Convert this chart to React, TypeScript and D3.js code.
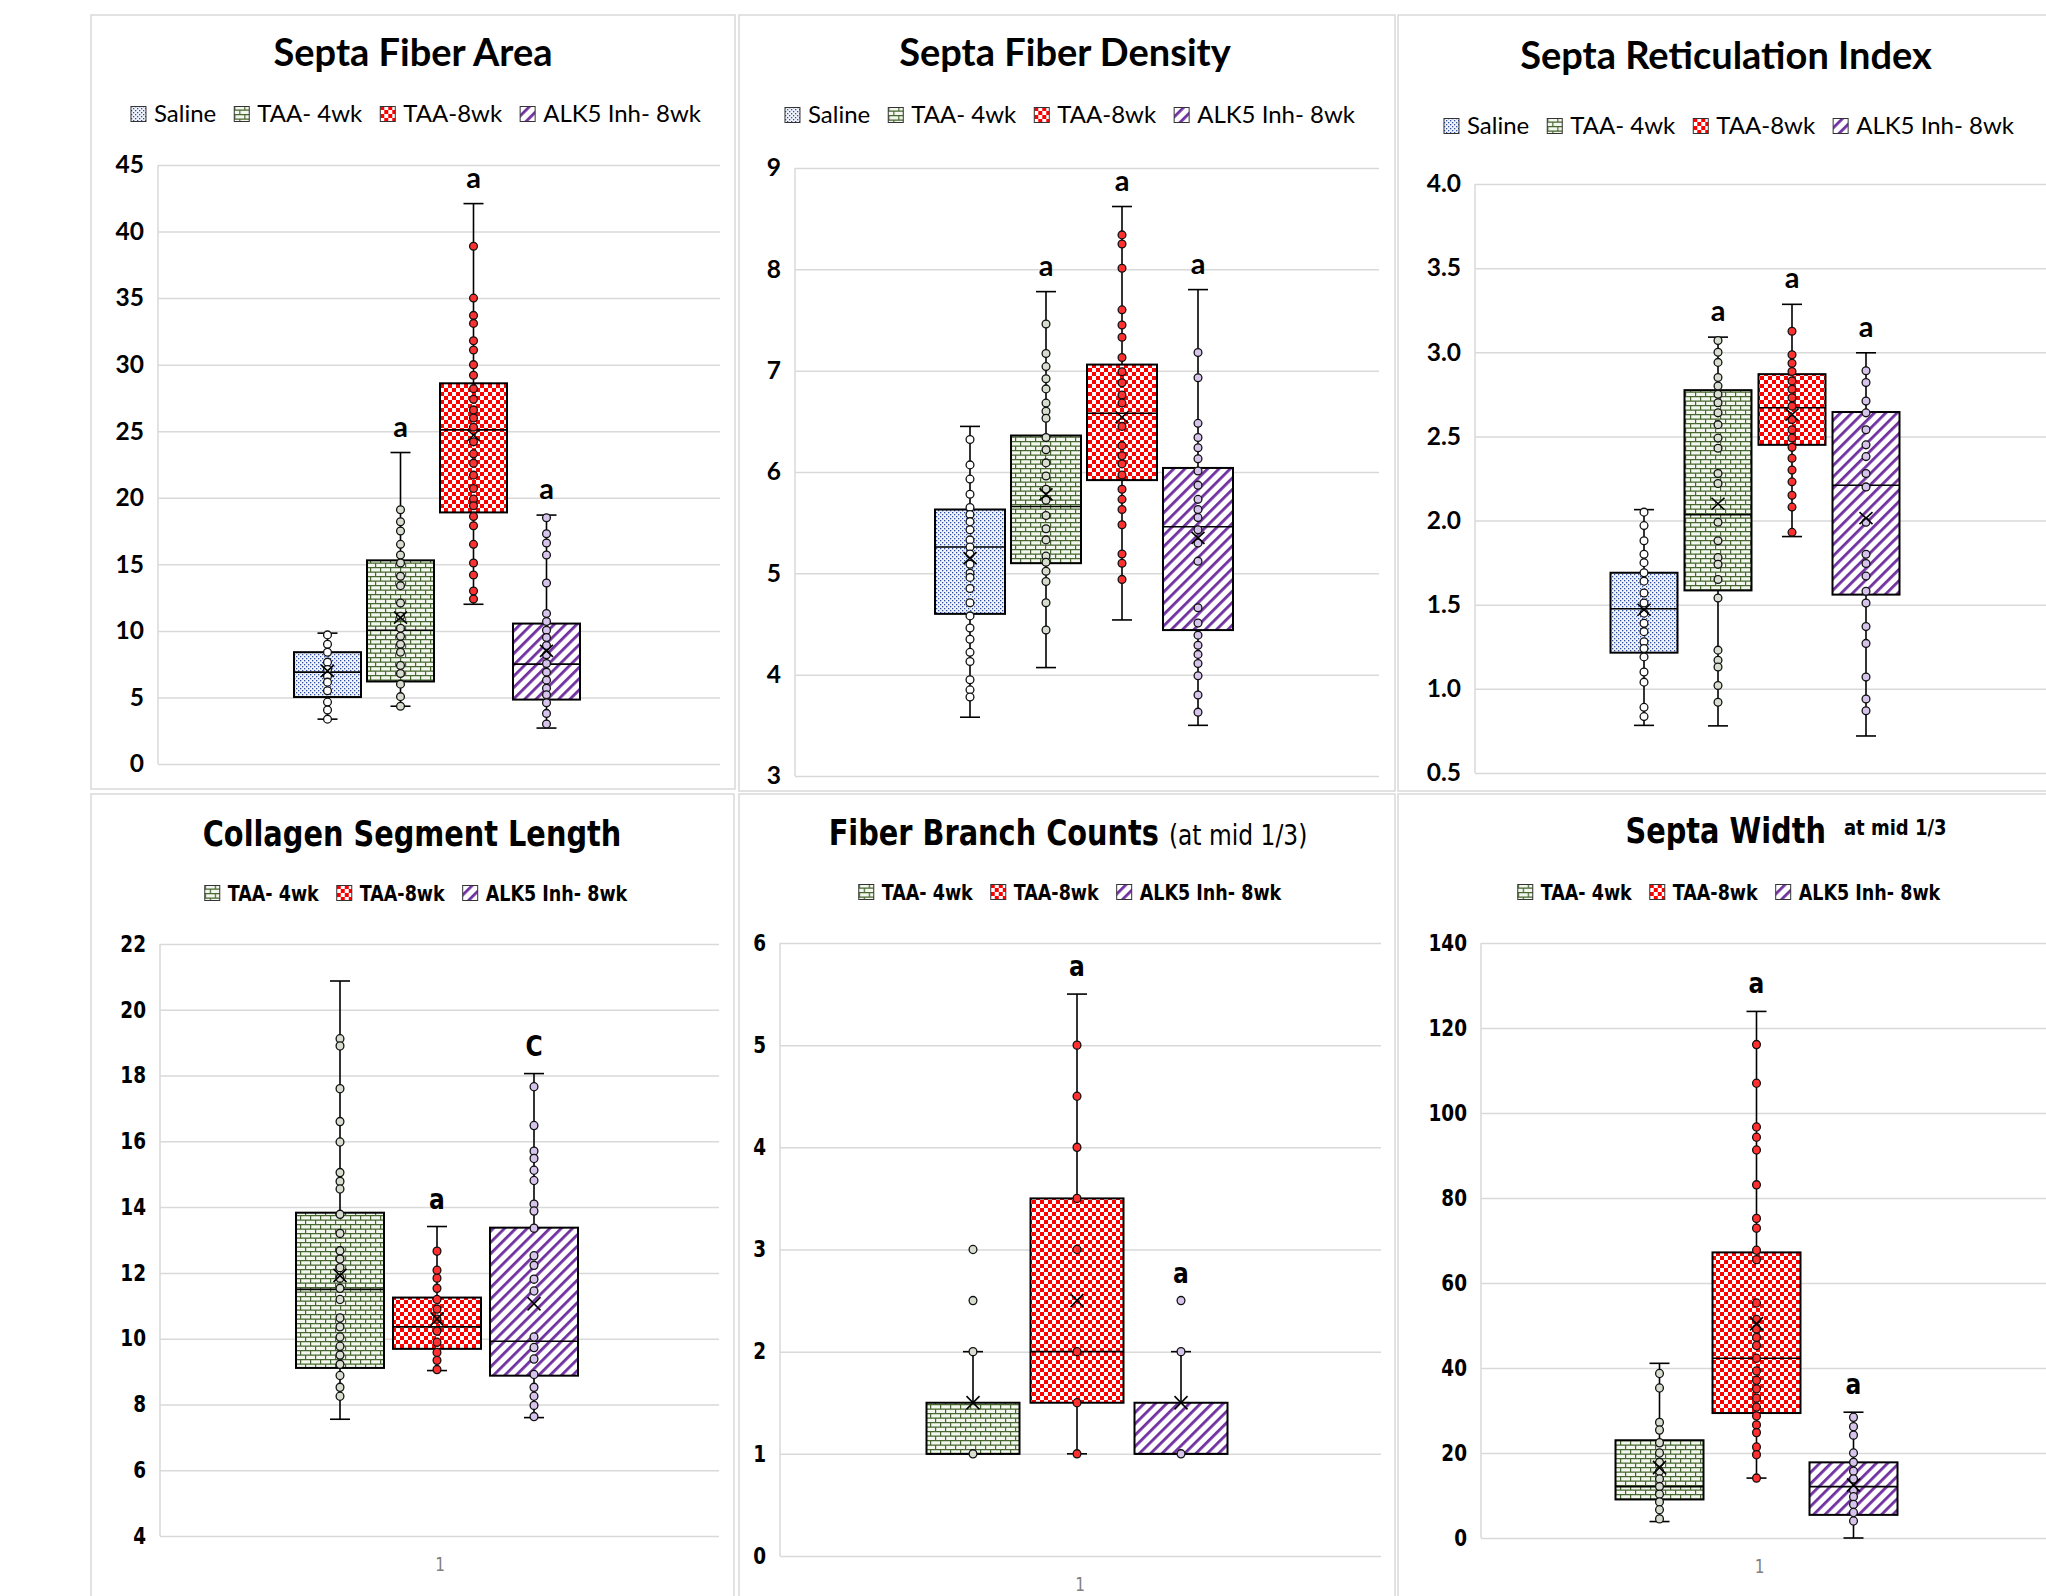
import React, { useEffect, useRef } from 'react';
import * as d3 from 'd3';

const TOP_SERIES = ['Saline', 'TAA- 4wk', 'TAA-8wk', 'ALK5 Inh- 8wk'];
const BOTTOM_SERIES = ['TAA- 4wk', 'TAA-8wk', 'ALK5 Inh- 8wk'];

// box stats per series: [min, q1, median, q3, max, mean]
const areaStats = [
  [3.37, 5.03, 6.9, 8.4, 9.83, 7.0],
  [4.34, 6.2, 10.05, 15.3, 23.4, 11.0],
  [12.0, 18.9, 25.1, 28.6, 42.1, 24.7],
  [2.7, 4.84, 7.5, 10.55, 18.7, 8.5],
];
const areaPoints = [
  [9.7, 9.0, 8.4, 7.65, 7.1, 6.6, 6.15, 5.5, 4.65, 4.06, 3.37],
  [19.1, 18.2, 17.5, 16.5, 15.7, 15.1, 14.1, 13.4, 12.1, 11.1, 10.2, 9.6, 9.0, 8.4, 7.4, 6.8, 6.0, 5.06, 4.34],
  [38.9, 35.0, 33.7, 33.1, 31.8, 31.1, 30.0, 29.2, 28.2, 27.4, 26.6, 26.0, 25.3, 24.2, 23.3, 22.6, 21.7, 20.7, 19.9, 19.4, 18.6, 17.9, 16.5, 15.1, 14.2, 13.0, 12.4],
  [18.5, 17.3, 16.6, 15.7, 13.6, 11.3, 10.7, 10.05, 9.5, 8.9, 8.2, 7.55, 6.9, 6.3, 5.7, 5.2, 4.6, 3.8, 3.0],
];
const areaLetters = ['', 'a', 'a', 'a'];
const areaTicks = [0, 5, 10, 15, 20, 25, 30, 35, 40, 45];

const densityStats = [
  [3.58, 4.6, 5.26, 5.63, 6.45, 5.15],
  [4.07, 5.1, 5.66, 6.36, 7.78, 5.78],
  [4.54, 5.92, 6.58, 7.06, 8.62, 6.54],
  [3.5, 4.44, 5.46, 6.04, 7.8, 5.35],
];
const densityPoints = [
  [6.32, 6.07, 5.93, 5.78, 5.65, 5.58, 5.51, 5.43, 5.33, 5.26, 5.19, 5.09, 5.0, 4.96, 4.85, 4.71, 4.58, 4.46, 4.35, 4.22, 4.13, 3.95, 3.85, 3.78],
  [7.46, 7.17, 7.04, 6.92, 6.82, 6.68, 6.6, 6.53, 6.34, 6.22, 6.09, 5.96, 5.83, 5.72, 5.57, 5.44, 5.33, 5.17, 5.11, 5.02, 4.92, 4.71, 4.44],
  [8.34, 8.25, 8.01, 7.6, 7.45, 7.33, 7.13, 6.99, 6.88, 6.76, 6.68, 6.45, 6.26, 6.16, 6.08, 5.97, 5.83, 5.73, 5.63, 5.48, 5.19, 5.1, 4.94],
  [7.18, 6.93, 6.48, 6.34, 6.24, 6.13, 6.01, 5.87, 5.73, 5.63, 5.55, 5.43, 5.3, 5.12, 4.66, 4.51, 4.39, 4.29, 4.2, 4.11, 3.99, 3.8, 3.63],
];
const densityLetters = ['', 'a', 'a', 'a'];
const densityTicks = [3, 4, 5, 6, 7, 8, 9];

const reticStats = [
  [0.783, 1.215, 1.476, 1.69, 2.065, 1.47],
  [0.78, 1.585, 2.035, 2.775, 3.09, 2.1],
  [1.905, 2.45, 2.67, 2.87, 3.285, 2.63],
  [0.72, 1.56, 2.21, 2.645, 2.997, 2.015],
];
const reticPoints = [
  [2.05, 1.97, 1.88, 1.8, 1.75, 1.69, 1.64, 1.57, 1.51, 1.45, 1.39, 1.34, 1.28, 1.24, 1.19, 1.1, 1.04, 0.89, 0.835],
  [3.07, 3.0, 2.94, 2.85, 2.8, 2.75, 2.7, 2.64, 2.57, 2.49, 2.43, 2.28, 2.22, 1.99, 1.88, 1.78, 1.74, 1.65, 1.54, 1.23, 1.17, 1.13, 1.02, 0.92],
  [3.125, 2.985, 2.935, 2.886, 2.83, 2.78, 2.73, 2.68, 2.6, 2.54, 2.49, 2.435, 2.37, 2.3, 2.23, 2.15, 2.08, 1.93],
  [2.89, 2.82, 2.71, 2.64, 2.54, 2.45, 2.38, 2.28, 2.2, 1.99, 1.8, 1.745, 1.67, 1.58, 1.51, 1.37, 1.27, 1.07, 0.94, 0.87],
];
const reticLetters = ['', 'a', 'a', 'a'];
const reticTicks = [0.5, 1.0, 1.5, 2.0, 2.5, 3.0, 3.5, 4.0];

const collagenStats = [
  [7.55, 9.11, 11.5, 13.83, 20.875, 11.92],
  [9.03, 9.69, 10.36, 11.25, 13.41, 10.6],
  [7.6, 8.875, 9.92, 13.375, 18.06, 11.06],
];
const collagenPoints = [
  [19.12, 18.9, 17.6, 16.6, 15.98, 15.05, 14.78, 14.55, 13.78, 13.2, 12.67, 12.42, 12.16, 11.84, 11.53, 11.19, 10.63, 10.36, 10.05, 9.77, 9.5, 9.22, 8.88, 8.52, 8.25],
  [12.66, 12.08, 11.84, 11.53, 11.19, 10.9, 10.59, 10.23, 9.89, 9.58, 9.34, 9.06],
  [17.66, 16.48, 15.7, 15.48, 15.12, 14.81, 14.09, 13.88, 13.36, 12.52, 12.23, 11.81, 11.45, 10.05, 9.73, 9.38, 8.91, 8.52, 8.25, 7.97, 7.63],
];
const collagenLetters = ['', 'a', 'C'];
const collagenTicks = [4, 6, 8, 10, 12, 14, 16, 18, 20, 22];

const branchStats = [
  [1, 1, 1, 1.5, 2, 1.5],
  [1, 1.5, 2, 3.5, 5.5, 2.5],
  [1, 1, 1, 1.5, 2, 1.5],
];
const branchPoints = [
  [3, 2.5, 2, 1],
  [5, 4.5, 4, 3.5, 3, 2, 1.5, 1],
  [2.5, 2, 1],
];
const branchLetters = ['', 'a', 'a'];
const branchTicks = [0, 1, 2, 3, 4, 5, 6];

const widthStats = [
  [3.87, 9.07, 12.1, 23.0, 41.1, 16.6],
  [14.1, 29.4, 42.3, 67.2, 123.9, 50.4],
  [0, 5.44, 12.1, 17.8, 29.6, 12.45],
];
const widthPoints = [
  [38.7, 35.3, 27.2, 25.4, 22.4, 20.0, 17.8, 15.7, 13.9, 12.1, 10.3, 8.5, 6.65, 4.5],
  [116.1, 107.0, 96.7, 94.3, 91.3, 83.1, 75.2, 72.9, 67.7, 65.5, 55.3, 51.4, 49.2, 47.2, 45.3, 42.3, 39.3, 37.1, 35.1, 32.9, 30.8, 28.7, 26.6, 24.8, 21.4, 19.6, 14.1],
  [28.4, 26.2, 24.2, 20.0, 17.8, 15.7, 13.9, 11.2, 9.7, 7.9, 6.0, 4.0],
];
const widthLetters = ['', 'a', 'a'];
const widthTicks = [0, 20, 40, 60, 80, 100, 120, 140];

const LATO = 'Lato, "Open Sans", sans-serif';
const DEJAVU_C = '"DejaVu Sans Condensed", "DejaVu Sans", Verdana, sans-serif';

const seriesStyle = {
  'Saline': { fill: 'url(#pat-saline)', dot: '#ffffff' },
  'TAA- 4wk': { fill: 'url(#pat-brick)', dot: '#d8decf' },
  'TAA-8wk': { fill: 'url(#pat-check)', dot: '#ff3030' },
  'ALK5 Inh- 8wk': { fill: 'url(#pat-diag)', dot: '#d6c4ec' },
};

// the lower row of the figure is drawn a little taller than wide
const topFont = { family: LATO, tick: 24.5, legend: 24, legendWeight: 'normal', letter: 29, letterGap: 16, swatch: 15, k: 1 };
const botFont = { family: DEJAVU_C, tick: 20.5, legend: 19.5, legendWeight: 'bold', letter: 26, letterGap: 18, swatch: 15, k: 1.1 };

const panels = [
  {
    title: [{ text: 'Septa Fiber Area', size: 38 }], series: TOP_SERIES,
    stats: areaStats, points: areaPoints, letters: areaLetters, ticks: areaTicks, fmt: d3.format('d'),
    frame: [91, 15, 644, 774], plotLeft: 158, plotRight: 720, plotTop: 165, plotBottom: 764,
    groupC: 437, step: 73, boxW: 67, titleX: 413, titleY: 66, legendX: 416, legendY: 114, font: topFont, cat: false,
  },
  {
    title: [{ text: 'Septa Fiber Density', size: 38 }], series: TOP_SERIES,
    stats: densityStats, points: densityPoints, letters: densityLetters, ticks: densityTicks, fmt: d3.format('d'),
    frame: [739, 15, 656, 776], plotLeft: 795, plotRight: 1379, plotTop: 168, plotBottom: 776,
    groupC: 1084, step: 76, boxW: 70, titleX: 1065, titleY: 66, legendX: 1070, legendY: 115, font: topFont, cat: false,
  },
  {
    title: [{ text: 'Septa Reticulation Index', size: 38 }], series: TOP_SERIES,
    stats: reticStats, points: reticPoints, letters: reticLetters, ticks: reticTicks, fmt: d3.format('.1f'),
    frame: [1398, 15, 660, 776], plotLeft: 1475, plotRight: 2046, plotTop: 184, plotBottom: 773,
    groupC: 1755, step: 74, boxW: 67, titleX: 1726, titleY: 69, legendX: 1729, legendY: 126, font: topFont, cat: false,
  },
  {
    title: [{ text: 'Collagen Segment Length', size: 32 }], series: BOTTOM_SERIES,
    stats: collagenStats, points: collagenPoints, letters: collagenLetters, ticks: collagenTicks, fmt: d3.format('d'),
    frame: [91, 794, 643, 810], plotLeft: 160, plotRight: 719, plotTop: 944, plotBottom: 1536,
    groupC: 437, step: 97, boxW: 88, titleX: 412, titleY: 846, legendX: 416, legendY: 893, font: botFont, cat: true,
  },
  {
    title: [{ text: 'Fiber Branch Counts', size: 32 }, { text: '(at mid 1/3)', size: 26, weight: 'normal', dx: 10 }],
    series: BOTTOM_SERIES,
    stats: branchStats, points: branchPoints, letters: branchLetters, ticks: branchTicks, fmt: d3.format('d'),
    frame: [739, 794, 656, 810], plotLeft: 780, plotRight: 1381, plotTop: 943, plotBottom: 1556,
    groupC: 1077, step: 104, boxW: 93, titleX: 1068, titleY: 845, legendX: 1070, legendY: 892, font: botFont, cat: true,
  },
  {
    title: [{ text: 'Septa Width', size: 32 }, { text: 'at mid 1/3', size: 20, dx: 18, dy: -7 }],
    series: BOTTOM_SERIES,
    stats: widthStats, points: widthPoints, letters: widthLetters, ticks: widthTicks, fmt: d3.format('d'),
    frame: [1398, 794, 660, 810], plotLeft: 1481, plotRight: 2046, plotTop: 943, plotBottom: 1538,
    groupC: 1756.5, step: 97, boxW: 88, titleX: 1786, titleY: 843, legendX: 1729, legendY: 892, font: botFont, cat: true,
  },
];

function addPatterns(svg) {
  const defs = svg.append('defs');

  const dots = defs.append('pattern').attr('id', 'pat-saline')
    .attr('patternUnits', 'userSpaceOnUse').attr('width', 4).attr('height', 4);
  dots.append('rect').attr('width', 4).attr('height', 4).attr('fill', '#f3f5fc');
  dots.append('rect').attr('x', 0).attr('y', 0).attr('width', 1.3).attr('height', 1.3).attr('fill', '#2d4c9e');
  dots.append('rect').attr('x', 2).attr('y', 2).attr('width', 1.3).attr('height', 1.3).attr('fill', '#2d4c9e');

  const brick = defs.append('pattern').attr('id', 'pat-brick')
    .attr('patternUnits', 'userSpaceOnUse').attr('width', 10).attr('height', 9);
  brick.append('rect').attr('width', 10).attr('height', 9).attr('fill', '#f4f7ef');
  brick.append('path')
    .attr('d', 'M0,0.6H10M0,5.1H10M0.6,0.6V5.1M5.6,5.1V9')
    .attr('stroke', '#46672f').attr('stroke-width', 1.2).attr('fill', 'none');

  const check = defs.append('pattern').attr('id', 'pat-check')
    .attr('patternUnits', 'userSpaceOnUse').attr('width', 8).attr('height', 8);
  check.append('rect').attr('width', 8).attr('height', 8).attr('fill', '#ffffff');
  check.append('rect').attr('width', 4).attr('height', 4).attr('fill', '#ff0000');
  check.append('rect').attr('x', 4).attr('y', 4).attr('width', 4).attr('height', 4).attr('fill', '#ff0000');

  const diag = defs.append('pattern').attr('id', 'pat-diag')
    .attr('patternUnits', 'userSpaceOnUse').attr('width', 8).attr('height', 8)
    .attr('patternTransform', 'rotate(45)');
  diag.append('rect').attr('width', 8).attr('height', 8).attr('fill', '#ffffff');
  diag.append('rect').attr('width', 2.8).attr('height', 8).attr('fill', '#7030a0');
}

// text placed at (x, y), stretched vertically by k
function placeText(sel, x, y, k) {
  return sel.attr('x', 0).attr('y', 0).attr('transform', `translate(${x},${y}) scale(1,${k})`);
}

function drawPanel(svg, p) {
  const f = p.font;
  const g = svg.append('g');

  g.append('rect')
    .attr('x', p.frame[0]).attr('y', p.frame[1]).attr('width', p.frame[2]).attr('height', p.frame[3])
    .attr('fill', '#fff').attr('stroke', '#d9d9d9').attr('stroke-width', 1.5);

  const y = d3.scaleLinear()
    .domain([p.ticks[0], p.ticks[p.ticks.length - 1]])
    .range([p.plotBottom, p.plotTop]);

  const n = p.series.length;
  const pad = 1 - p.boxW / p.step;
  const x = d3.scaleBand()
    .domain(p.series)
    .range([p.groupC - (n * p.step) / 2, p.groupC + (n * p.step) / 2])
    .paddingInner(pad)
    .paddingOuter(pad / 2);

  // gridlines + tick labels
  const axis = d3.axisLeft(y)
    .tickValues(p.ticks)
    .tickFormat(p.fmt)
    .tickSize(-(p.plotRight - p.plotLeft))
    .tickPadding(14);
  const ax = g.append('g').attr('transform', `translate(${p.plotLeft},0)`).call(axis);
  ax.select('.domain').remove();
  ax.selectAll('.tick line').attr('stroke', '#d9d9d9').attr('stroke-width', 1.5);
  ax.selectAll('.tick text')
    .attr('fill', '#000')
    .attr('transform', `scale(1,${f.k})`)
    .style('font-family', f.family)
    .style('font-size', `${f.tick}px`)
    .style('font-weight', 'bold');

  g.append('line')
    .attr('x1', p.plotLeft).attr('x2', p.plotLeft)
    .attr('y1', p.plotTop).attr('y2', p.plotBottom)
    .attr('stroke', '#d9d9d9').attr('stroke-width', 1.5);

  if (p.cat) {
    placeText(g.append('text'), p.groupC + 3, p.plotBottom + 28, f.k)
      .attr('dy', '0.35em')
      .attr('text-anchor', 'middle')
      .style('font-family', f.family).style('font-size', '17px').attr('fill', '#808080')
      .text('1');
  }

  // boxes
  p.series.forEach((s, i) => {
    const [lo, q1, med, q3, hi, mean] = p.stats[i];
    const st = seriesStyle[s];
    const bw = x.bandwidth();
    const x0 = x(s);
    const cx = x0 + bw / 2;
    const cap = 10;
    const bg = g.append('g');

    bg.append('line').attr('x1', cx).attr('x2', cx).attr('y1', y(hi)).attr('y2', y(q3))
      .attr('stroke', '#000').attr('stroke-width', 1.6);
    bg.append('line').attr('x1', cx).attr('x2', cx).attr('y1', y(q1)).attr('y2', y(lo))
      .attr('stroke', '#000').attr('stroke-width', 1.6);
    [hi, lo].forEach(v => {
      bg.append('line').attr('x1', cx - cap).attr('x2', cx + cap).attr('y1', y(v)).attr('y2', y(v))
        .attr('stroke', '#000').attr('stroke-width', 1.6);
    });

    bg.append('rect')
      .attr('x', x0).attr('y', y(q3)).attr('width', bw).attr('height', Math.max(0, y(q1) - y(q3)))
      .attr('fill', st.fill).attr('stroke', '#000').attr('stroke-width', 2);
    bg.append('line').attr('x1', x0).attr('x2', x0 + bw).attr('y1', y(med)).attr('y2', y(med))
      .attr('stroke', '#000').attr('stroke-width', 1.6);

    bg.selectAll('ellipse.pt')
      .data(p.points[i])
      .enter().append('ellipse')
      .attr('class', 'pt')
      .attr('cx', cx).attr('cy', d => y(d)).attr('rx', 3.9).attr('ry', 3.9 * Math.sqrt(f.k))
      .attr('fill', st.dot).attr('stroke', '#111').attr('stroke-width', 1.3);

    bg.append('path')
      .attr('transform', `translate(${cx},${y(mean)}) scale(1,${f.k})`)
      .attr('d', 'M-6.5,-6L6.5,6M-6.5,6L6.5,-6')
      .attr('stroke', '#000').attr('stroke-width', 1.6).attr('fill', 'none');

    if (p.letters[i]) {
      const top = Math.max(hi, d3.max(p.points[i]));
      placeText(bg.append('text'), cx, y(top) - f.letterGap, f.k)
        .attr('text-anchor', 'middle')
        .style('font-family', f.family).style('font-size', `${f.letter}px`).style('font-weight', 'bold')
        .text(p.letters[i]);
    }
  });

  // title
  const t = placeText(g.append('text'), p.titleX, p.titleY, f.k)
    .attr('text-anchor', 'middle')
    .style('font-family', f.family).attr('fill', '#000');
  p.title.forEach(part => {
    const ts = t.append('tspan')
      .style('font-size', `${part.size}px`)
      .style('font-weight', part.weight || 'bold')
      .text(part.text);
    if (part.dx) ts.attr('dx', part.dx);
    if (part.dy) ts.attr('dy', part.dy);
  });

  // legend
  const lg = g.append('g');
  const sw = f.swatch;
  let cursor = 0;
  p.series.forEach(s => {
    const it = lg.append('g').attr('transform', `translate(${cursor},0)`);
    it.append('rect')
      .attr('x', 0).attr('y', -sw / 2).attr('width', sw).attr('height', sw)
      .attr('fill', seriesStyle[s].fill).attr('stroke', '#333').attr('stroke-width', 1);
    const txt = placeText(it.append('text'), sw + 8, 0, f.k)
      .attr('dy', '0.35em')
      .style('font-family', f.family).style('font-size', `${f.legend}px`)
      .style('font-weight', f.legendWeight)
      .attr('fill', '#000')
      .text(s);
    cursor += sw + 8 + txt.node().getComputedTextLength() + 18;
  });
  const total = cursor - 18;
  lg.attr('transform', `translate(${p.legendX - total / 2},${p.legendY})`);
}

const App = () => {
  const ref = useRef(null);

  useEffect(() => {
    const svg = d3.select(ref.current);
    svg.selectAll('*').remove();
    svg.append('rect').attr('width', 2046).attr('height', 1596).attr('fill', '#fff');
    addPatterns(svg);
    panels.forEach(p => drawPanel(svg, p));
  }, []);

  return (
    <svg
      ref={ref}
      width={2046}
      height={1596}
      style={{ position: 'absolute', left: 0, top: 0, display: 'block' }}
    />
  );
};

export default App;
